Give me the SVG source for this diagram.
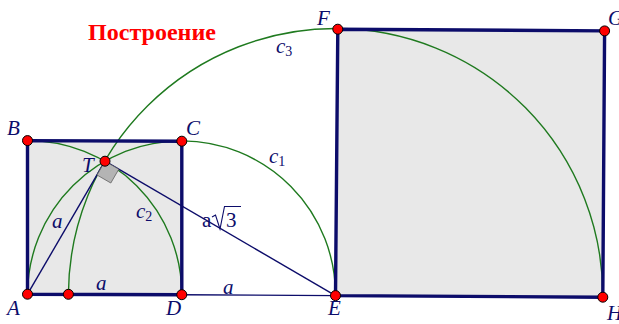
<svg xmlns="http://www.w3.org/2000/svg" width="619" height="324" viewBox="0 0 619 324">
<defs>
<style>
.sq{fill:#e8e8e8;stroke:none}
.edge{fill:none;stroke:#0c0c6a;stroke-width:3.4;stroke-linejoin:miter}
.arc{fill:none;stroke:#1f7a1f;stroke-width:1.4}
.seg{fill:none;stroke:#0c0c6a;stroke-width:1.4}
.pt{fill:#ff0000;stroke:#000;stroke-width:1}
.lbl{font-family:"Liberation Serif","Times New Roman",serif;font-style:italic;font-size:21px;fill:#0c0c6a}
.up{font-style:normal}
.sub{font-size:14px;font-style:normal}
.title{font-family:"Liberation Serif","Times New Roman",serif;font-weight:bold;font-size:23px;fill:#ff0000}
</style>
</defs>
<rect width="619" height="324" fill="#ffffff"/>
<text class="title" x="88" y="40" textLength="128" lengthAdjust="spacingAndGlyphs">Построение</text>
<g id="squares">
<polygon class="sq" points="27.5,294.2 27.5,140.6 181.8,141.2 181.8,294.7"/>
<polygon class="sq" points="335.5,295.6 337.8,29.2 604.6,30.9 602.8,297.2"/>
</g>
<g id="connectors">
<path id="c1" class="arc" d="M27.5,294.2 A154,154 0 0 1 335.5,295.6"/>
<path id="c2" class="arc" d="M27.5,140.6 A154,154 0 0 1 181.8,294.7"/>
<path id="c3" class="arc" d="M68.4,294.3 A267,267 0 0 1 602.8,297.2"/>
<line class="seg" x1="27.5" y1="294.2" x2="105" y2="161.2"/>
<line class="seg" x1="105" y1="161.2" x2="335.5" y2="295.6"/>
<line class="seg" x1="181.8" y1="294.7" x2="335.5" y2="295.6"/>
<polygon class="edge" points="27.5,294.2 27.5,140.6 181.8,141.2 181.8,294.7"/>
<polygon class="edge" points="335.5,295.6 337.8,29.2 604.6,30.9 602.8,297.2"/>
<polygon id="right-angle" points="105,161.2 97,175 110.8,183 118.8,169.2" fill="#b4b4b4" stroke="#606060" stroke-width="0.8"/>
</g>
<g class="lbl">
<text x="52" y="228">a</text>
<text x="96" y="290">a</text>
<text x="223" y="294">a</text>
<text x="136" y="218">c<tspan class="sub" dy="3">2</tspan></text>
<text x="269" y="163">c<tspan class="sub" dy="3">1</tspan></text>
<text x="276" y="53">c<tspan class="sub" dy="3">3</tspan></text>
<g id="a-sqrt3">
<text class="up" x="202" y="227">a</text>
<path d="M212,217 L215.5,215 L220,229 L224.5,206.5 L241,206.5" fill="none" stroke="#0c0c6a" stroke-width="1.1"/>
<text class="up" x="226" y="227">3</text>
</g>
</g>
<g id="node-A"><circle class="pt" cx="27.5" cy="294.2" r="5"/><text class="lbl" x="7" y="315">A</text></g>
<g id="node-B"><circle class="pt" cx="27.5" cy="140.6" r="5"/><text class="lbl" x="7" y="135">B</text></g>
<g id="node-C"><circle class="pt" cx="181.8" cy="141.2" r="5"/><text class="lbl" x="186" y="135">C</text></g>
<g id="node-D"><circle class="pt" cx="181.8" cy="294.7" r="5"/><text class="lbl" x="166" y="315">D</text></g>
<g id="node-E"><circle class="pt" cx="335.5" cy="295.6" r="5"/><text class="lbl" x="328" y="315">E</text></g>
<g id="node-F"><circle class="pt" cx="337.8" cy="29.2" r="5"/><text class="lbl" x="317" y="25">F</text></g>
<g id="node-G"><circle class="pt" cx="604.6" cy="30.9" r="5"/><text class="lbl" x="608" y="25">G</text></g>
<g id="node-H"><circle class="pt" cx="602.8" cy="297.2" r="5"/><text class="lbl" x="607" y="320">H</text></g>
<g id="node-T"><circle class="pt" cx="105" cy="161.2" r="5"/><text class="lbl" x="82" y="172">T</text></g>
<g id="node-P"><circle class="pt" cx="68.4" cy="294.3" r="5"/></g>
</svg>
